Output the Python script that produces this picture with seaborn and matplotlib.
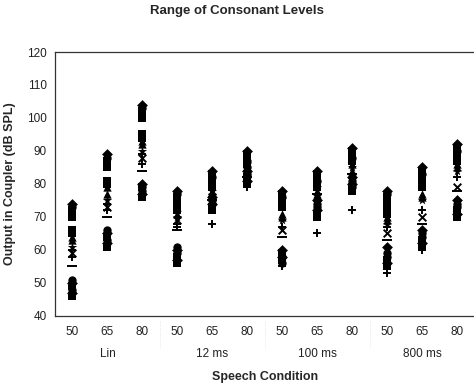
import numpy as np
import pandas as pd
import matplotlib
matplotlib.use("Agg")
import matplotlib.pyplot as plt
import matplotlib.transforms as mtransforms
import seaborn as sns

# speech conditions (compression time constant x input level)
groups = ["Lin", "12 ms", "100 ms", "800 ms"]
levels = ["50", "65", "80"]
conditions = [f"{g} {l}" for g in groups for l in levels]

# consonant output levels (dB SPL), one row per consonant
diamond_vals = [
    [74, 89, 104, 78, 84, 90, 78, 84, 91, 78, 85, 92],
    [47, 62, 77, 57, 74, 81, 58, 72, 80, 61, 66, 75],
    [50, 65, 80, 60, 76, 84, 60, 75, 82, 56, 62, 71],
]
square_vals = [
    [72, 87, 102, 76, 83, 89, 77, 83, 90, 76, 84, 91],
    [70, 85, 100, 74, 81, 88, 75, 82, 89, 74, 82, 89],
    [66, 81, 95, 72, 79, 86, 73, 80, 87, 71, 79, 87],
    [65, 80, 94, 75, 80, 87, 74, 79, 88, 73, 80, 88],
    [49, 64, 79, 58, 73, 82, 59, 71, 79, 57, 63, 72],
    [46, 61, 76, 56, 72, 80, 57, 70, 78, 55, 61, 70],
]
circle_vals = [
    [73, 88, 103, 77, 82, 87, 76, 81, 88, 77, 83, 90],
    [48, 63, 78, 61, 75, 85, 56, 74, 79, 58, 64, 73],
    [51, 66, 79, 59, 74, 83, 58, 73, 81, 59, 65, 74],
]
triangle_vals = [
    [63, 77, 92, 71, 77, 84, 70, 77, 84, 69, 76, 85],
    [64, 79, 93, 73, 78, 85, 71, 78, 86, 70, 77, 86],
]
star_vals = [
    [61, 75, 90, 70, 78, 86, 69, 79, 85, 68, 75, 84],
]
x_vals = [
    [59, 73, 88, 69, 76, 83, 66, 76, 81, 65, 70, 79],
]
plus_vals = [
    [58, 72, 86, 68, 68, 79, 55, 65, 72, 53, 60, 70],
    [60, 74, 89, 67, 76, 84, 67, 79, 83, 67, 72, 82],
]
dash_vals = [
    [55, 70, 84, 66, 75, 82, 64, 77, 83, 63, 68, 78],
]

series = [
    (diamond_vals, "D", 5.5),
    (square_vals, "s", 5.5),
    (circle_vals, "o", 6.0),
    (triangle_vals, "^", 6.0),
    (star_vals, "*", 7.0),
    (x_vals, "x", 5.5),
    (plus_vals, "+", 6.0),
    (dash_vals, "_", 7.0),
]

sns.set_style("white")
plt.rcParams["font.family"] = ["Liberation Sans", "DejaVu Sans"]

fig = plt.figure(figsize=(4.74, 3.91), dpi=100)
ax = fig.add_axes([0.116, 0.192, 0.886, 0.675])

for rows, marker, size in series:
    for row in rows:
        df = pd.DataFrame({"condition": conditions, "level": row})
        sns.stripplot(data=df, x="condition", y="level", order=conditions,
                      jitter=False, marker=marker, s=size,
                      color="black", linewidth=1.4 if marker in "x+_" else 0,
                      edgecolor="black", ax=ax)

ax.set_xlim(-0.5, 11.5)
ax.set_ylim(40, 120)
ax.set_yticks(range(40, 121, 10))
ax.set_xticks(range(len(conditions)))
ax.set_xticklabels([c.split()[-1] for c in conditions])
ax.tick_params(axis="both", length=0, labelsize=8.5, colors="#222222")
ax.tick_params(axis="x", pad=7)
ax.tick_params(axis="y", pad=6)

for side in ["top", "left", "bottom"]:
    ax.spines[side].set_color("#333333")
    ax.spines[side].set_linewidth(0.9)
ax.spines["right"].set_visible(False)

# group labels under the level labels
trans = mtransforms.blended_transform_factory(ax.transData, ax.transAxes)
for i, g in enumerate(groups):
    ax.text(i * 3 + 1, -0.145, g, transform=trans, ha="center", va="center",
            fontsize=8.5, color="#222222")

# faint separators in the label area
for xs in [2.5, 5.5, 8.5]:
    ax.plot([xs, xs], [-0.02, -0.12], transform=trans, clip_on=False,
            color="#dddddd", lw=0.6, ls=":")

ax.set_xlabel("Speech Condition", fontsize=9, fontweight="bold", labelpad=24)
ax.set_ylabel("Output in Coupler (dB SPL)", fontsize=9, fontweight="bold",
              labelpad=8)
fig.text(0.5, 0.972, "Range of Consonant Levels", ha="center", va="center",
         fontsize=9.5, fontweight="bold")

fig.savefig("out.png", dpi=100)
